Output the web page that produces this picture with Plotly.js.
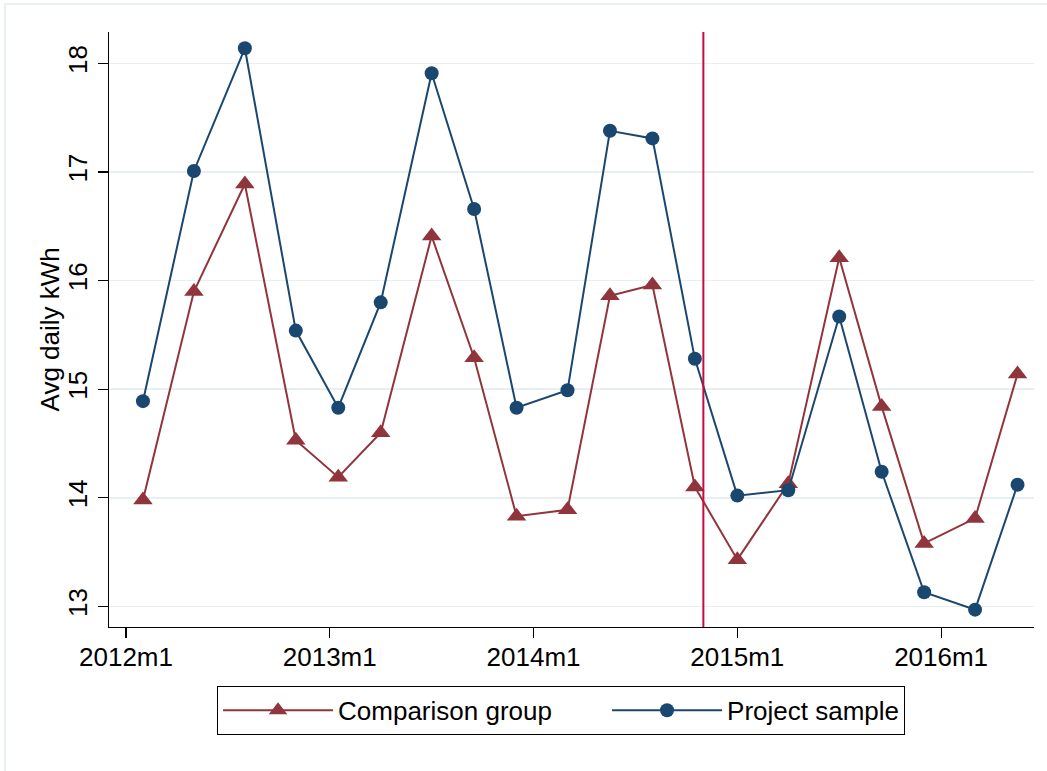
<!DOCTYPE html>
<html>
<head>
<meta charset="utf-8">
<script src="https://cdn.plot.ly/plotly-3.0.1.min.js"></script>
<style>
  html, body { margin: 0; padding: 0; background: #ffffff; }
  #chart { width: 1047px; height: 771px; }
</style>
</head>
<body>
<div id="chart"></div>
<script>
// Months since 2012m1 (0 = 2012m1)
var months = [1, 4, 7, 10, 12.5, 15, 18, 20.5, 23, 26, 28.5, 31, 33.5, 36, 39, 42, 44.5, 47, 50, 52.5];
var comparisonGroup = [13.98, 15.90, 16.89, 14.53, 14.19, 14.60, 16.41, 15.29, 13.83, 13.89, 15.86, 15.96, 14.10, 13.43, 14.13, 16.21, 14.84, 13.58, 13.81, 15.14];
var projectSample   = [14.89, 17.01, 18.14, 15.54, 14.83, 15.80, 17.91, 16.66, 14.83, 14.99, 17.38, 17.31, 15.28, 14.02, 14.07, 15.67, 14.24, 13.13, 12.97, 14.12];
var tickMonths = [0, 12, 24, 36, 48];
var tickLabels = ['2012m1', '2013m1', '2014m1', '2015m1', '2016m1'];
var yTicks = [13, 14, 15, 16, 17, 18];
var treatmentMonth = 34;
var yTitle = 'Avg daily kWh';

var red = '#90353b';
var blue = '#1a476f';
var font = 'Liberation Sans, Arial, Helvetica, sans-serif';

var traces = [
  {
    x: months, y: comparisonGroup, type: 'scatter', mode: 'lines+markers',
    name: 'Comparison group',
    legendwidth: 264,
    line: {color: red, width: 2},
    marker: {symbol: 'triangle-up', size: 17, color: red}
  },
  {
    x: months, y: projectSample, type: 'scatter', mode: 'lines+markers',
    name: 'Project sample',
    line: {color: blue, width: 2},
    marker: {symbol: 'circle', size: 14, color: blue}
  }
];

var layout = {
  width: 1047, height: 771,
  margin: {l: 109, r: 13, t: 32, b: 144},
  paper_bgcolor: '#ffffff', plot_bgcolor: '#ffffff',
  font: {family: font, size: 26, color: '#000000'},
  showlegend: true,
  legend: {
    orientation: 'h', x: 0.1168, xanchor: 'left', y: -0.099, yanchor: 'top',
    bordercolor: '#000000', borderwidth: 1, bgcolor: '#ffffff',
    font: {family: font, size: 26, color: '#000000'},
    itemwidth: 110, traceorder: 'normal'
  },
  xaxis: {
    range: [-1.0, 53.47],
    tickmode: 'array', tickvals: tickMonths, ticktext: tickLabels,
    showgrid: false, zeroline: false,
    showline: true, linecolor: '#000000', linewidth: 1.2,
    ticks: 'outside', ticklen: 10, tickwidth: 1.2, tickcolor: '#000000',
    ticklabelstandoff: -3,
    tickfont: {family: font, size: 26, color: '#000000'}
  },
  yaxis: {
    range: [12.81, 18.29],
    tickmode: 'array', tickvals: yTicks,
    tickangle: -90,
    showgrid: true, gridcolor: '#e7eff2', gridwidth: 1.7,
    zeroline: false,
    showline: true, linecolor: '#000000', linewidth: 1.2,
    ticks: 'outside', ticklen: 10, tickwidth: 1.2, tickcolor: '#000000',
    tickfont: {family: font, size: 26, color: '#000000'},
    automargin: false
  },
  annotations: [
    {
      text: yTitle, xref: 'paper', yref: 'paper',
      x: -0.0638, y: 0.5, xanchor: 'center', yanchor: 'middle',
      textangle: -90, showarrow: false,
      font: {family: font, size: 26, color: '#000000'}
    }
  ],
  shapes: [
    {
      type: 'line', xref: 'x', yref: 'paper',
      x0: treatmentMonth, x1: treatmentMonth, y0: 0, y1: 1,
      line: {color: '#cc0a3c', width: 2}
    },
    {
      type: 'rect', xref: 'paper', yref: 'paper',
      x0: -0.1124, x1: 1.03, y0: -0.26, y1: 1.047,
      line: {color: '#e4ecef', width: 1.5}, fillcolor: 'rgba(0,0,0,0)', layer: 'below'
    }
  ]
};

Plotly.newPlot('chart', traces, layout, {displayModeBar: false, staticPlot: true});
</script>
</body>
</html>
